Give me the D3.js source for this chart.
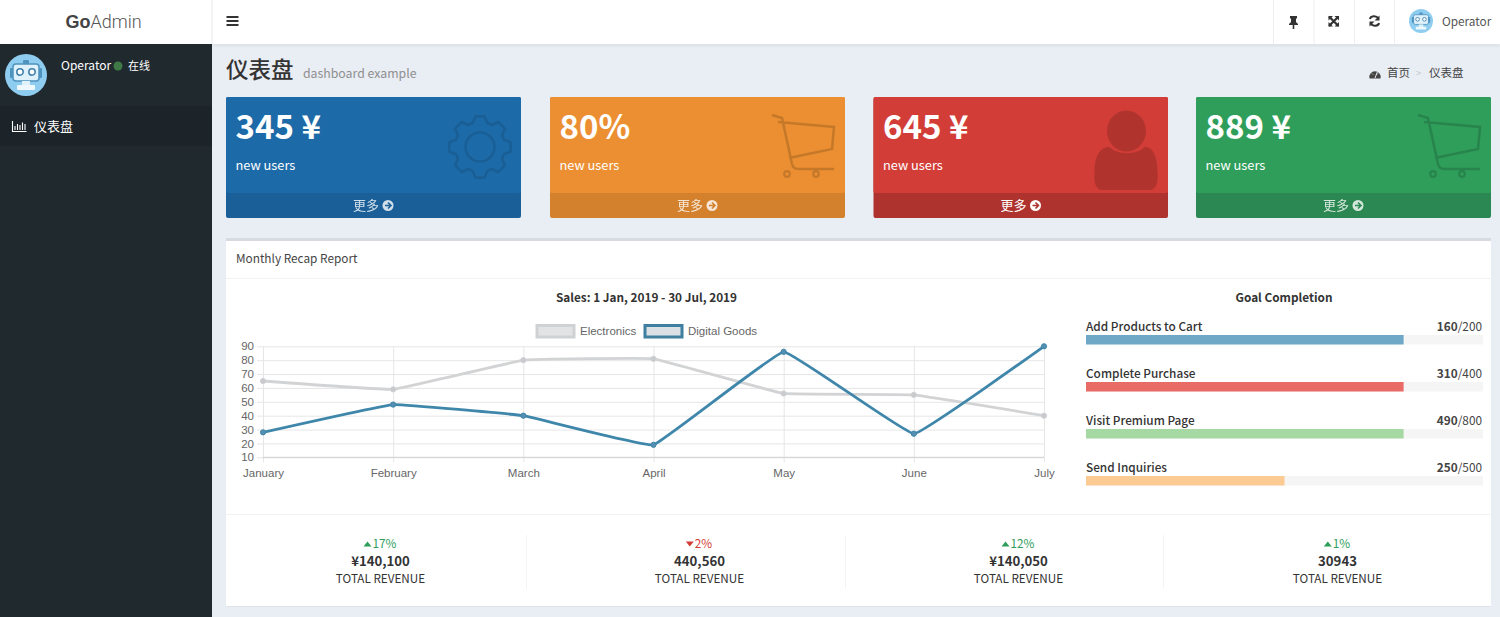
<!DOCTYPE html>
<html>
<head>
<meta charset="utf-8">
<script src="https://cdn.jsdelivr.net/npm/d3@7"></script>
<style>
  html, body { margin: 0; padding: 0; background: #e9edf4; overflow: hidden; }
  svg { display: block; }
  text { font-family: "Noto Sans CJK SC", "Noto Sans", sans-serif; }
  .chart-text { font-family: "Liberation Sans", Arial, sans-serif; fill: #666; font-size: 11.5px; }
  .grid line { stroke: #e6e6e6; }
  .grid path { stroke: none; }
</style>
</head>
<body>
<div id="root"></div>
<script>
var months = ['January', 'February', 'March', 'April', 'May', 'June', 'July'];
var electronics = [65, 59, 80, 81, 56, 55, 40];
var digitalGoods = [28, 48, 40, 19, 86, 27, 90];
var yTicks = [10, 20, 30, 40, 50, 60, 70, 80, 90];

var cardValues = ['345 ¥', '80%', '645 ¥', '889 ¥'];
var cardLeft = [226, 550, 873.5, 1196];
var cardColors = ['#1c6aa8', '#ec8f32', '#d33d37', '#2f9e5b'];
var cardFooters = ['#1a5f97', '#d4812d', '#ae332e', '#2b8852'];
var cardIcons = ['gear', 'cart', 'user', 'cart'];
var cardMoreOpacity = [0.8, 0.8, 1, 0.8];

var goalNames = ['Add Products to Cart', 'Complete Purchase', 'Visit Premium Page', 'Send Inquiries'];
var goalDone = [160, 310, 490, 250];
var goalTotal = [200, 400, 800, 500];
var goalPercent = [80, 80, 80, 50];
var goalColors = ['#6fa8c7', '#e96b66', '#a6d8a4', '#fbcb93'];

var statChange = ['17%', '2%', '12%', '1%'];
var statUp = [true, false, true, true];
var statValue = ['¥140,100', '440,560', '¥140,050', '30943'];
var statLabel = 'TOTAL REVENUE';
var statCenter = [380, 699, 1018, 1337];

var svg = d3.select('#root').append('svg').attr('width', 1500).attr('height', 617);

function rect(g, x, y, w, h, fill, rx) {
  return g.append('rect').attr('x', x).attr('y', y).attr('width', w).attr('height', h)
    .attr('fill', fill).attr('rx', rx || 0);
}

function label(g, x, y, str, size, fill, weight, anchor) {
  return g.append('text').attr('x', x).attr('y', y).text(str)
    .attr('font-size', size).attr('fill', fill)
    .attr('font-weight', weight || 400).attr('text-anchor', anchor || 'start');
}

// little robot used for the avatars
function robot(g, cx, cy, r) {
  var a = g.append('g').attr('transform', 'translate(' + cx + ',' + cy + ') scale(' + r / 21 + ')');
  a.append('circle').attr('r', 21).attr('fill', '#8fcdf0');
  rect(a, -13, -11, 26, 17, '#dff1fb', 3).attr('stroke', '#4f93bf').attr('stroke-width', 1.5);
  rect(a, -16, -7, 3, 10, '#4f93bf', 1);
  rect(a, 13, -7, 3, 10, '#4f93bf', 1);
  a.append('circle').attr('cx', -6).attr('cy', -3).attr('r', 3.2).attr('fill', '#fff').attr('stroke', '#3d7fa8').attr('stroke-width', 1.5);
  a.append('circle').attr('cx', 6).attr('cy', -3).attr('r', 3.2).attr('fill', '#fff').attr('stroke', '#3d7fa8').attr('stroke-width', 1.5);
  rect(a, -4, 6, 8, 5, '#dff1fb');
  rect(a, -9, 10, 18, 5, '#eef8fd', 1);
  rect(a, -3, -15, 6, 4, '#4f93bf', 1);
}

function moreIcon(g, cx, cy, arrow, opacity) {
  g.append('circle').attr('cx', cx).attr('cy', cy).attr('r', 5.5).attr('fill', '#fff').attr('opacity', opacity);
  g.append('path').attr('d', 'M' + (cx - 3) + ',' + cy + 'H' + (cx + 2) + 'M' + cx + ',' + (cy - 3) + 'L' + (cx + 3) + ',' + cy + 'L' + cx + ',' + (cy + 3))
    .attr('fill', 'none').attr('stroke', arrow).attr('stroke-width', 1.6);
}

function gearPath(cx, cy, outer, inner, teeth) {
  var pts = [];
  for (var i = 0; i < teeth; i++) {
    var a = i / teeth * 2 * Math.PI, w = Math.PI / teeth * 0.55;
    [[inner, -w * 1.35], [outer, -w * 0.7], [outer, w * 0.7], [inner, w * 1.35]].forEach(function(p) {
      pts.push([cx + p[0] * Math.cos(a + p[1]), cy + p[0] * Math.sin(a + p[1])]);
    });
  }
  return 'M' + pts.join('L') + 'Z';
}

function bigIcon(g, type, left, shade) {
  if (type == 'gear') {
    var cx = left + 254;
    g.append('path').attr('d', gearPath(cx, 147, 31, 25, 8)).attr('fill', 'none').attr('stroke', 'rgba(0,0,0,0.1)').attr('stroke-width', 2.6).attr('stroke-linejoin', 'round');
    g.append('circle').attr('cx', cx).attr('cy', 147).attr('r', 14.5).attr('fill', 'none').attr('stroke', 'rgba(0,0,0,0.1)').attr('stroke-width', 2.6);
  } else if (type == 'cart') {
    var c = g.append('g').attr('transform', 'translate(' + (left + 222) + ',115)');
    c.append('path').attr('d', 'M0,0L10,3L20,49C21,53 23,54 26,54H62M6,7L62,12L60,34L17,43')
      .attr('fill', 'none').attr('stroke', shade).attr('stroke-width', 2.6);
    c.append('circle').attr('cx', 15).attr('cy', 59).attr('r', 2.8).attr('fill', 'none').attr('stroke', shade).attr('stroke-width', 2.2);
    c.append('circle').attr('cx', 44).attr('cy', 59).attr('r', 2.8).attr('fill', 'none').attr('stroke', shade).attr('stroke-width', 2.2);
  } else {
    g.append('ellipse').attr('cx', left + 253).attr('cy', 131).attr('rx', 19.5).attr('ry', 20.5).attr('fill', shade);
    g.append('path').attr('d', 'M' + (left + 236) + ',147C' + (left + 243) + ',155 ' + (left + 264) + ',155 ' + (left + 271) + ',147'
      + 'C' + (left + 280) + ',147 ' + (left + 284) + ',157 ' + (left + 284) + ',172C' + (left + 285) + ',182 ' + (left + 283) + ',190 ' + (left + 276) + ',190'
      + 'H' + (left + 229) + 'C' + (left + 222) + ',190 ' + (left + 220) + ',182 ' + (left + 221) + ',172C' + (left + 221) + ',157 ' + (left + 226) + ',147 ' + (left + 236) + ',147Z')
      .attr('fill', shade);
  }
}

// page chrome
var defs = svg.append('defs');
var blur = defs.append('filter').attr('id', 'soft').attr('x', '-5%').attr('y', '-5%').attr('width', '110%').attr('height', '110%');
blur.append('feGaussianBlur').attr('stdDeviation', 2);

rect(svg, 0, 0, 1500, 617, '#e9edf4');
rect(svg, 212, 42, 1288, 4, '#d8dce3').attr('filter', 'url(#soft)');
rect(svg, 0, 0, 1500, 44, '#fff');
rect(svg, 0, 44, 212, 573, '#20292e');
rect(svg, 0, 106, 212, 40, '#1c2429');
rect(svg, 211.5, 0, 1, 44, '#e8e8e8');

var logo = svg.append('text').attr('x', 103.5).attr('y', 28).attr('text-anchor', 'middle').attr('font-size', 18).attr('fill', '#444');
logo.append('tspan').attr('font-weight', 700).style('font-family', '"Liberation Sans", Arial, sans-serif').text('Go');
logo.append('tspan').attr('font-weight', 300).attr('fill', '#555').style('font-family', 'Roboto, sans-serif').text('Admin');

// hamburger
[17, 21, 25].forEach(function(y) { rect(svg, 226.5, y - 1, 12, 2, '#333'); });

// header buttons
[1273, 1313.5, 1354, 1394].forEach(function(x) { rect(svg, x, 0, 1, 44, '#eeeeee'); });
svg.append('path').attr('d', 'M1290,16H1297V18L1296,19V22L1298,24V25H1294.3V29H1292.7V25H1289V24L1291,22V19L1290,18Z').attr('fill', '#333');
svg.append('path').attr('d', 'M1329,16.5L1338.5,26M1338.5,16.5L1329,26').attr('stroke', '#333').attr('stroke-width', 2.2);
svg.append('path').attr('d', 'M1328.5,16H1333L1328.5,20.5ZM1339,16H1334.5L1339,20.5ZM1328.5,26.5H1333L1328.5,22ZM1339,26.5H1334.5L1339,22Z').attr('fill', '#333');
svg.append('path').attr('d', 'M1370,19C1370.5,16 1376,15 1378.5,18.5M1379,23C1378.5,26 1373,27 1370.5,23.5').attr('fill', 'none').attr('stroke', '#333').attr('stroke-width', 2);
svg.append('path').attr('d', 'M1379.5,15.5V20.5H1374.5ZM1369.5,26.5V21.5H1374.5Z').attr('fill', '#333');
robot(svg, 1421, 21, 12);
label(svg, 1442, 26, 'Operator', 11.8, '#555');

// sidebar
robot(svg, 26, 75, 21);
label(svg, 61, 70, 'Operator', 12, '#fff');
svg.append('circle').attr('cx', 118).attr('cy', 66).attr('r', 4.5).attr('fill', '#3f7a46');
label(svg, 128, 70, '在线', 11, '#fff');
svg.append('path').attr('d', 'M12.5,121V131.5H26.5M15,130V126M17.5,130V124M20,130V125M22.5,130V122.5M25,130V124').attr('fill', 'none').attr('stroke', '#fff').attr('stroke-width', 1.1);
label(svg, 34, 131, '仪表盘', 13, '#fff');

// page title and breadcrumb
label(svg, 226, 78, '仪表盘', 22.5, '#333', 500);
label(svg, 303, 78, 'dashboard example', 12.3, '#8f8f8f');
svg.append('path').attr('d', 'M1369.5,78.5A5.7,5.7 0 1 1 1380.5,78.5Z').attr('fill', '#444');
svg.append('path').attr('d', 'M1375,78L1377.5,71.5M1372,73.5L1373,74.5M1378,73.5L1377,74.5').attr('stroke', '#e9edf4').attr('stroke-width', 1);
label(svg, 1387, 77, '首页', 11.5, '#444');
label(svg, 1416, 77, '>', 9.5, '#c4c8ce');
label(svg, 1429, 77, '仪表盘', 11.5, '#444');

// stat cards
cardLeft.forEach(function(left, i) {
  var g = svg.append('g');
  var w = i == 2 ? 294.5 : 295;
  rect(g, left, 97, w, 121, cardFooters[i], 2);
  rect(g, left, 97, w, 96, cardColors[i], 2);
  bigIcon(g, cardIcons[i], left, 'rgba(0,0,0,0.16)');
  label(g, left + 9.5, 139, cardValues[i], 33, '#fff', 700);
  label(g, left + 9.5, 170, 'new users', 12.8, '#fff');
  label(g, left + 127, 210, '更多', 13, '#fff').attr('opacity', cardMoreOpacity[i]);
  moreIcon(g, left + 162, 205.5, cardFooters[i], cardMoreOpacity[i]);
});

// main box
var box = svg.append('g');
rect(box, 226, 238, 1265, 369, '#dfe2e7', 2);
rect(box, 226, 241, 1265, 365, '#fff');
rect(box, 226, 238, 1265, 3, '#d7dbe0');
rect(box, 226, 278, 1265, 1, '#f2f2f2');
rect(box, 226, 514, 1265, 1, '#f2f2f2');
label(box, 236, 263, 'Monthly Recap Report', 11.8, '#444', 400);
label(box, 646.5, 302, 'Sales: 1 Jan, 2019 - 30 Jul, 2019', 11.8, '#333', 700, 'middle');
label(box, 1284, 302, 'Goal Completion', 11.8, '#333', 700, 'middle');

// line chart
var x = d3.scalePoint().domain(months).range([263, 1044]);
var y = d3.scaleLinear().domain([10, 90]).range([457.3, 346.3]);
var chart = svg.append('g');

chart.append('g').attr('class', 'grid').attr('transform', 'translate(263,0)')
  .call(d3.axisLeft(y).tickValues(yTicks).tickSize(-781).tickPadding(9))
  .call(function(a) {
    a.selectAll('text').attr('class', 'chart-text').attr('font-family', null).attr('font-size', null);
    a.selectAll('line').attr('x1', 781).attr('x2', -6);
  });
chart.append('g').attr('class', 'grid').attr('transform', 'translate(0,457.3)')
  .call(d3.axisBottom(x).tickSize(-111))
  .call(function(a) {
    a.selectAll('text').attr('class', 'chart-text').attr('font-family', null).attr('font-size', null).attr('y', 12).attr('dy', '0.71em');
    a.selectAll('line').attr('y1', 5).attr('y2', -111);
  });
chart.append('line').attr('x1', 263).attr('x2', 1044).attr('y1', 457.3).attr('y2', 457.3).attr('stroke', '#d0d0d0');

var line = d3.line()
  .x(function(d, i) { return x(months[i]); })
  .y(function(d) { return y(d); })
  .curve(d3.curveCardinal.tension(0.8));

function drawSeries(values, stroke, pointFill, pointStroke) {
  chart.append('path').datum(values).attr('d', line)
    .attr('fill', 'none').attr('stroke', stroke).attr('stroke-width', 2.8);
  chart.selectAll(null).data(values).enter().append('circle')
    .attr('cx', function(d, i) { return x(months[i]); })
    .attr('cy', function(d) { return y(d); })
    .attr('r', 2.6).attr('fill', pointFill).attr('stroke', pointStroke);
}
drawSeries(electronics, '#d2d3d5', '#c8cacd', '#d0d1d3');
drawSeries(digitalGoods, '#3f86ab', '#5590b2', '#3f86ab');

// legend
rect(chart, 537, 325.5, 37, 11.5, '#e2e3e5').attr('stroke', '#d0d1d3').attr('stroke-width', 3);
chart.append('text').attr('class', 'chart-text').attr('x', 580).attr('y', 335).text('Electronics');
rect(chart, 645, 325.5, 37, 11.5, '#dbe0e5').attr('stroke', '#3f7f9f').attr('stroke-width', 3);
chart.append('text').attr('class', 'chart-text').attr('x', 688).attr('y', 335).text('Digital Goods');

// goal bars
var goalX = d3.scaleLinear().domain([0, 100]).range([1086, 1483]);
var goalTop = [335, 382, 429, 476];
goalNames.forEach(function(name, i) {
  var g = svg.append('g');
  label(g, 1086, goalTop[i] - 4.5, name, 11.8, '#333', 500);
  var t = label(g, 1482, goalTop[i] - 4.5, '', 11.8, '#444', 400, 'end');
  t.append('tspan').attr('font-weight', 700).text(goalDone[i]);
  t.append('tspan').text('/' + goalTotal[i]);
  rect(g, goalX(0), goalTop[i], goalX(100) - goalX(0), 9.5, '#f5f5f5');
  rect(g, goalX(0), goalTop[i], goalX(goalPercent[i]) - goalX(0), 9.5, goalColors[i]);
});

// footer stats
[526, 845, 1163].forEach(function(px) { rect(svg, px, 535, 1, 54, '#f4f4f4'); });
statCenter.forEach(function(cx, i) {
  var g = svg.append('g');
  var col = statUp[i] ? '#2f9e5b' : '#d33d37';
  var t = label(g, cx + 4.5, 548, statChange[i], 11.8, col, 400, 'middle');
  var half = t.node().getComputedTextLength() / 2;
  var tx = cx + 4.5 - half - 5;
  g.append('path').attr('d', statUp[i]
    ? 'M' + (tx - 4) + ',546.5H' + (tx + 4) + 'L' + tx + ',541.5Z'
    : 'M' + (tx - 4) + ',541.5H' + (tx + 4) + 'L' + tx + ',546.5Z').attr('fill', col);
  label(g, cx + 0.5, 566, statValue[i], 13.2, '#333', 700, 'middle');
  label(g, cx + 0.5, 583, statLabel, 11.7, '#333', 400, 'middle');
});
</script>
</body>
</html>
